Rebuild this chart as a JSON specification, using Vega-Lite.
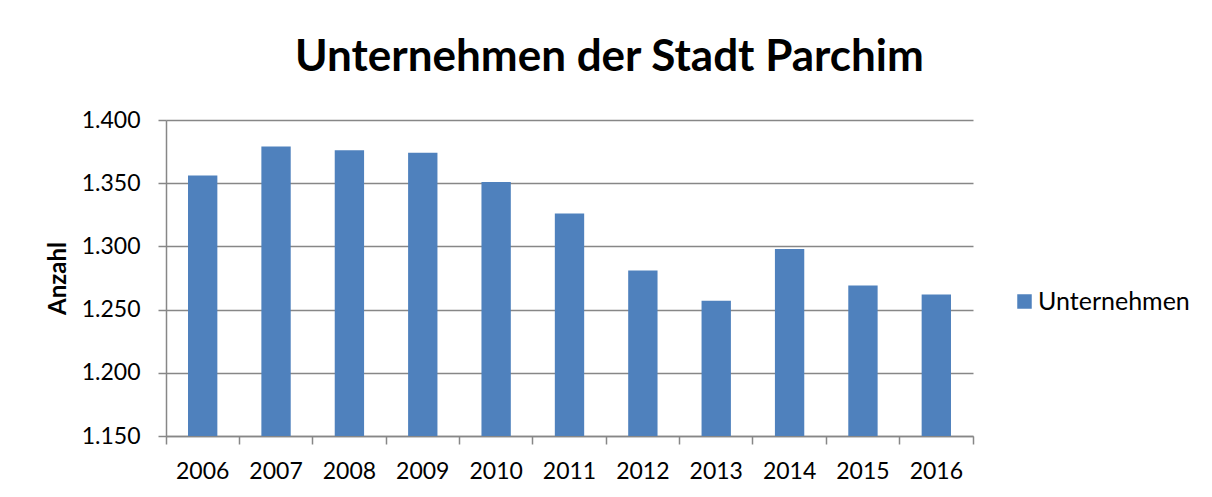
{
  "$schema": "https://vega.github.io/schema/vega-lite/v6.json",
  "width": 807,
  "height": 316,
  "autosize": {"type": "none"},
  "padding": {"left": 166, "top": 120, "right": 239, "bottom": 61},
  "background": "white",
  "title": {
    "text": "Unternehmen der Stadt Parchim",
    "font": "Lato",
    "fontSize": 44,
    "fontWeight": "bold",
    "color": "#000000",
    "anchor": "middle",
    "dx": 40,
    "dy": 45,
    "baseline": "alphabetic",
    "offset": 39
  },
  "data": {
    "values": [
      {"Jahr": "2006", "Anzahl": 1356, "Reihe": "Unternehmen"},
      {"Jahr": "2007", "Anzahl": 1379, "Reihe": "Unternehmen"},
      {"Jahr": "2008", "Anzahl": 1376, "Reihe": "Unternehmen"},
      {"Jahr": "2009", "Anzahl": 1374, "Reihe": "Unternehmen"},
      {"Jahr": "2010", "Anzahl": 1351, "Reihe": "Unternehmen"},
      {"Jahr": "2011", "Anzahl": 1326, "Reihe": "Unternehmen"},
      {"Jahr": "2012", "Anzahl": 1281, "Reihe": "Unternehmen"},
      {"Jahr": "2013", "Anzahl": 1257, "Reihe": "Unternehmen"},
      {"Jahr": "2014", "Anzahl": 1298, "Reihe": "Unternehmen"},
      {"Jahr": "2015", "Anzahl": 1269, "Reihe": "Unternehmen"},
      {"Jahr": "2016", "Anzahl": 1262, "Reihe": "Unternehmen"}
    ]
  },
  "mark": {"type": "bar", "width": {"band": 0.4}, "clip": true},
  "encoding": {
    "x": {
      "field": "Jahr",
      "type": "ordinal",
      "scale": {"paddingInner": 0, "paddingOuter": 0},
      "axis": {
        "title": null,
        "labelAngle": 0,
        "bandPosition": 1,
        "tickExtra": true,
        "grid": false,
        "labelPadding": 16
      }
    },
    "y": {
      "field": "Anzahl",
      "type": "quantitative",
      "scale": {"domain": [1150, 1400], "zero": false, "nice": false},
      "axis": {
        "title": "Anzahl",
        "values": [1150, 1200, 1250, 1300, 1350, 1400],
        "labelExpr": "replace(format(datum.value, ',d'), ',', '.')",
        "grid": true,
        "labelPadding": 18,
        "titleFont": "Lato",
        "titleFontSize": 24,
        "titleFontWeight": "bold",
        "titleColor": "#000000",
        "titleX": -108,
        "titleY": 158,
        "titleAlign": "center",
        "titleBaseline": "middle",
        "titleAngle": -90
      }
    },
    "color": {
      "field": "Reihe",
      "type": "nominal",
      "scale": {"range": ["#4F81BD"]},
      "legend": {
        "title": null,
        "orient": "none",
        "legendX": 846,
        "legendY": 169,
        "symbolType": "square",
        "symbolSize": 210,
        "symbolStrokeWidth": 0,
        "labelFont": "Lato",
        "labelFontSize": 25,
        "labelColor": "#000000",
        "labelOffset": 1,
        "padding": 0
      }
    }
  },
  "config": {
    "view": {"stroke": null},
    "axis": {
      "domainColor": "#878787",
      "domainWidth": 1.5,
      "tickColor": "#878787",
      "tickWidth": 1.5,
      "tickSize": 8,
      "gridColor": "#878787",
      "gridWidth": 1.5,
      "labelFont": "Lato",
      "labelFontSize": 23,
      "labelColor": "#000000"
    }
  }
}
